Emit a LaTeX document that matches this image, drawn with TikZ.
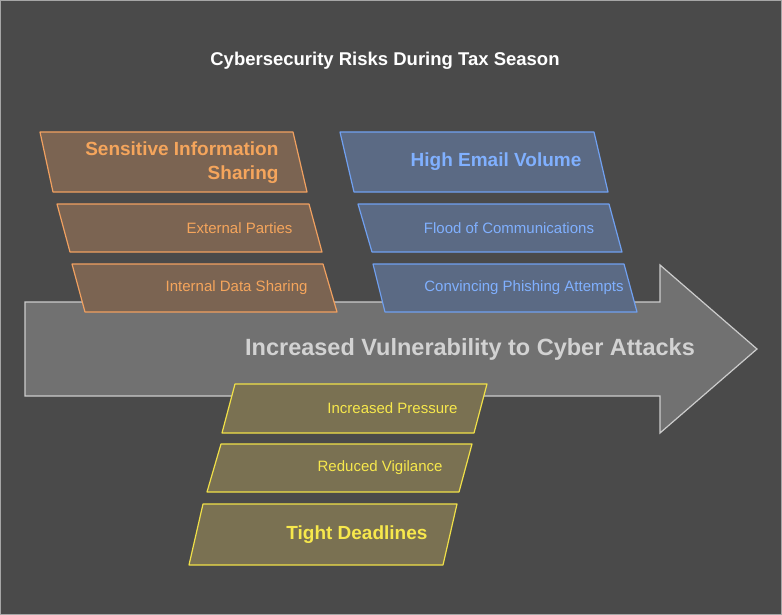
\documentclass[tikz,border=0pt]{standalone}
\usepackage{fontspec}
\setmainfont{Liberation Sans}
\definecolor{bg}{HTML}{4A4A4A}
\definecolor{arrowfill}{HTML}{717171}
\definecolor{ofill}{HTML}{7B6452}
\definecolor{oline}{HTML}{F0A060}
\definecolor{otext}{HTML}{F5A55C}
\definecolor{bfill}{HTML}{5B6A84}
\definecolor{bline}{HTML}{70A0F0}
\definecolor{btext}{HTML}{80B0FF}
\definecolor{yfill}{HTML}{7A7152}
\definecolor{yline}{HTML}{F0E048}
\definecolor{ytext}{HTML}{F7E84C}
\tikzset{
  obox/.style={fill=ofill,draw=oline,line width=1.2pt,line join=round},
  bbox/.style={fill=bfill,draw=bline,line width=1.2pt,line join=round},
  ybox/.style={fill=yfill,draw=yline,line width=1.2pt,line join=round},
  small/.style={font=\fontsize{15}{18}\selectfont},
  big/.style={font=\fontsize{19}{24}\selectfont\bfseries},
}
\begin{document}
\begin{tikzpicture}[x=1pt,y=-1pt]
\fill[bg] (0,0) rectangle (782,615);
\draw[gray!70,line width=0.8pt] (0.5,0.5) rectangle (781.5,614.5);
\node[white,font=\fontsize{18.5}{22}\selectfont\bfseries] (title) at (385,61) {Cybersecurity Risks During Tax Season};
% arrow
\draw[fill=arrowfill,draw=gray!40!white,line width=1.2pt,line join=miter]
 (25,302) -- (660,302) -- (660,265) -- (757,349) -- (660,433) -- (660,396) -- (25,396) -- cycle;
% orange
\draw[obox] (40,132) -- (293,132) -- (307,192) -- (53,192) -- cycle;
\draw[obox] (57,204) -- (309,204) -- (322,252) -- (70,252) -- cycle;
\draw[obox] (72,264) -- (323,264) -- (337,312) -- (85,312) -- cycle;
% blue
\draw[bbox] (340,132) -- (594,132) -- (608,192) -- (354,192) -- cycle;
\draw[bbox] (358,204) -- (609,204) -- (622,252) -- (372,252) -- cycle;
\draw[bbox] (373,264) -- (624,264) -- (637,312) -- (385,312) -- cycle;
% yellow
\draw[ybox] (235,384) -- (487,384) -- (474,433) -- (222,433) -- cycle;
\draw[ybox] (221,444) -- (472,444) -- (459,492) -- (207,492) -- cycle;
\draw[ybox] (203,504) -- (457,504) -- (443,565) -- (189,565) -- cycle;
% texts
\node[big,otext,align=right,anchor=east] (sens) at (282,163) {Sensitive Information\\Sharing};
\node[small,otext,anchor=east] (ext) at (296,228) {External Parties};
\node[small,otext,anchor=east] (int) at (311,288) {Internal Data Sharing};
\node[big,btext] (high) at (496,162) {High Email Volume};
\node[small,btext] (flood) at (509,228) {Flood of Communications};
\node[small,btext] (conv) at (524,288) {Convincing Phishing Attempts};
\node[font=\fontsize{23.5}{28}\selectfont\bfseries,text=gray!35!white] (vul) at (470,349) {Increased Vulnerability to Cyber Attacks};
\node[small,ytext,anchor=east] (pres) at (461,408) {Increased Pressure};
\node[small,ytext,anchor=east] (vig) at (446,468) {Reduced Vigilance};
\node[big,ytext,anchor=east] (tight) at (431,535) {Tight Deadlines};
\end{tikzpicture}
\end{document}
